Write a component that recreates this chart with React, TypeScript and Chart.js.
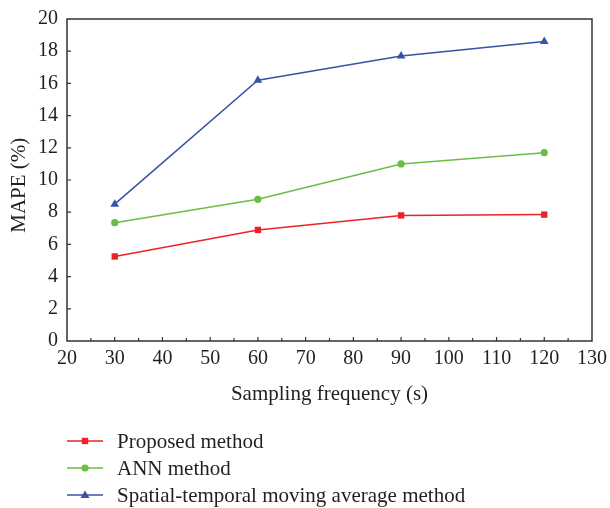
import React, { useEffect, useRef } from "react";
import { Chart, registerables } from "chart.js";

Chart.register(...registerables);

const frequencies = [30, 60, 90, 120];
const proposed = [5.25, 6.9, 7.8, 7.85];
const ann = [7.35, 8.8, 11.0, 11.7];
const stma = [8.5, 16.2, 17.7, 18.6];
const seriesNames = ["Proposed method", "ANN method", "Spatial-temporal moving average method"];
const colors = ["#ec2227", "#6abd45", "#3953a4"];
const shapes = ["rect", "circle", "triangle"];

const FONT = "'Liberation Serif', 'Times New Roman', serif";
const AXIS = "#333333";
const TEXT = "#231f20";

function drawMarker(ctx: CanvasRenderingContext2D, shape: string, x: number, y: number, color: string) {
  ctx.save();
  ctx.fillStyle = color;
  ctx.beginPath();
  if (shape === "rect") {
    ctx.rect(x - 3.2, y - 3.2, 6.4, 6.4);
  } else if (shape === "circle") {
    ctx.arc(x, y, 3.6, 0, Math.PI * 2);
  } else {
    ctx.moveTo(x, y - 4.5);
    ctx.lineTo(x + 4.5, y + 3);
    ctx.lineTo(x - 4.5, y + 3);
    ctx.closePath();
  }
  ctx.fill();
  ctx.restore();
}

const framePlugin = {
  id: "frame",
  afterDraw(chart: any) {
    const ctx = chart.ctx as CanvasRenderingContext2D;
    const a = chart.chartArea;
    const xs = chart.scales.x;
    const ys = chart.scales.y;
    ctx.save();
    ctx.strokeStyle = AXIS;
    ctx.lineWidth = 1.5;
    ctx.strokeRect(a.left, a.top, a.right - a.left, a.bottom - a.top);
    ctx.lineWidth = 1.2;
    ctx.beginPath();
    for (let v = 2; v < 20; v += 2) {
      const py = ys.getPixelForValue(v);
      ctx.moveTo(a.left, py);
      ctx.lineTo(a.left + 4, py);
    }
    for (let v = 25; v < 130; v += 5) {
      const px = xs.getPixelForValue(v);
      const len = v % 10 === 0 ? 4 : 3;
      ctx.moveTo(px, a.bottom);
      ctx.lineTo(px, a.bottom - len);
    }
    ctx.stroke();
    ctx.restore();
  },
};

const legendPlugin = {
  id: "customLegend",
  afterDraw(chart: any) {
    const ctx = chart.ctx as CanvasRenderingContext2D;
    const rows = [441, 468, 495];
    ctx.save();
    chart.data.datasets.forEach((ds: any, i: number) => {
      const y = rows[i];
      ctx.strokeStyle = colors[i];
      ctx.lineWidth = 1.5;
      ctx.beginPath();
      ctx.moveTo(67, y);
      ctx.lineTo(103, y);
      ctx.stroke();
      drawMarker(ctx, shapes[i], 85, y, colors[i]);
      ctx.fillStyle = TEXT;
      ctx.font = `21px ${FONT}`;
      ctx.textBaseline = "middle";
      ctx.textAlign = "left";
      ctx.fillText(ds.label, 117, y + 1);
    });
    ctx.restore();
  },
};

export default function App() {
  const ref = useRef<HTMLCanvasElement>(null);
  useEffect(() => {
    if (!ref.current) return;
    const mk = (vals: number[], i: number) => ({
      label: seriesNames[i],
      data: frequencies.map((f, k) => ({ x: f, y: vals[k] })),
      borderColor: colors[i],
      backgroundColor: colors[i],
      borderWidth: 1.5,
      pointStyle: shapes[i] as any,
      pointRadius: i === 0 ? 4.5 : i === 1 ? 3.6 : 5,
      pointBorderWidth: 0,
      tension: 0,
    });
    const chart = new Chart(ref.current, {
      type: "line",
      data: { datasets: [mk(proposed, 0), mk(ann, 1), mk(stma, 2)] },
      options: {
        animation: false,
        responsive: false,
        maintainAspectRatio: false,
        layout: { padding: { top: 19, right: 18, left: 0, bottom: 97 } },
        plugins: { legend: { display: false }, tooltip: { enabled: false } },
        scales: {
          x: {
            type: "linear",
            min: 20,
            max: 130,
            grid: { display: false, drawTicks: false },
            border: { display: false },
            ticks: { stepSize: 10, padding: 6, color: TEXT, font: { family: FONT, size: 20 } },
            title: { display: true, text: "Sampling frequency (s)", color: TEXT, font: { family: FONT, size: 21 }, padding: { top: 4 } },
            afterFit: (s: any) => { s.height = 70; s.paddingLeft = 0; s.paddingRight = 0; },
          },
          y: {
            min: 0,
            max: 20,
            grid: { display: false, drawTicks: false },
            border: { display: false },
            ticks: { stepSize: 2, padding: 9, color: TEXT, font: { family: FONT, size: 20 } },
            title: { display: true, text: "MAPE (%)\u00a0\u00a0", color: TEXT, font: { family: FONT, size: 21 }, padding: { top: 7, bottom: 0 } },
            afterFit: (s: any) => { s.width = 67; s.paddingTop = 0; s.paddingBottom = 0; },
          },
        },
      },
      plugins: [framePlugin, legendPlugin],
    });
    return () => chart.destroy();
  }, []);
  return (
    <div style={{ position: "absolute", left: 0, top: 0, width: 610, height: 508, background: "#fff" }}>
      <canvas ref={ref} width={610} height={508} style={{ display: "block" }} />
    </div>
  );
}
